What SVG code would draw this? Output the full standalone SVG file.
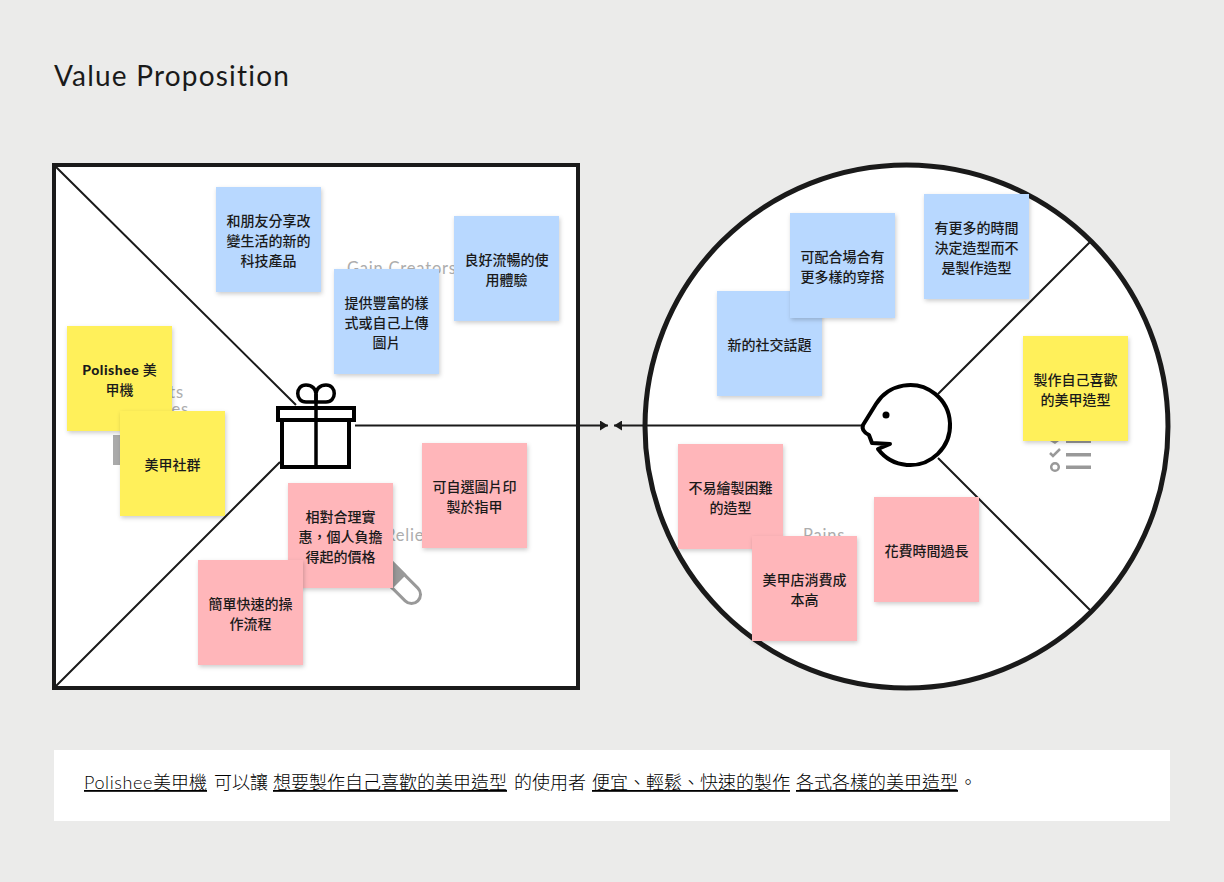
<svg xmlns="http://www.w3.org/2000/svg" width="1224" height="882" viewBox="0 0 1224 882">
<style>
text{font-family:"Lato","Noto Sans CJK TC","Noto Sans",sans-serif;fill:#1a1a1a}
.n text{font-size:14px;font-weight:500;text-anchor:middle}
.y rect{fill:#fff05a;filter:url(#s)}
.b rect{fill:#b8d8ff;filter:url(#s)}
.p rect{fill:#ffb6ba;filter:url(#s)}
.g{font-size:16.500px;font-weight:400;fill:#adadad;letter-spacing:.8px}
.u{font-size:18px;font-weight:300;text-decoration:underline;fill:#000}
.t{font-size:18px;font-weight:300;fill:#000}
.l{stroke:#1a1a1a;stroke-width:2;fill:none}
.i{stroke:#000;stroke-width:4;fill:#fff}
</style>
<defs>
<filter id="s" x="-10%" y="-10%" width="125%" height="125%"><feDropShadow dx="1" dy="2" stdDeviation="2" flood-color="#000" flood-opacity=".2"/></filter>
<marker id="a" markerWidth="9" markerHeight="10" refX="8" refY="5" orient="auto" markerUnits="userSpaceOnUse"><path d="M0 0L8 5L0 10Z" fill="#1a1a1a"/></marker>
</defs>
<rect width="1224" height="882" fill="#ebebea"/>
<text x="54" y="86" style="font-size:28px;letter-spacing:1.2px">Value Proposition</text>

<g id="value-map">
<rect x="54" y="165" width="524" height="523" fill="#fff" stroke="#1a1a1a" stroke-width="4"/>
<path class="l" d="M55 166L296 405M280 462L55 687"/>
<text class="g" x="347" y="274">Gain Creators</text>
<text class="g" x="184" y="398" text-anchor="end">Products</text>
<text class="g" x="189" y="415" text-anchor="end">&amp; Services</text>
<text class="g" x="346" y="541">Pain Relievers</text>
<rect x="113" y="435" width="7" height="30" fill="#aaa"/>
<g transform="translate(399 582) rotate(-45)">
<path d="M-9 -30H9V17.700A9 9 0 0 1 -9 17.700Z" fill="#fff" stroke="#999" stroke-width="3"/>
<rect x="-10.500" y="-30" width="21" height="30" fill="#999"/>
</g>
</g>

<g id="customer-profile">
<circle cx="906.500" cy="426.500" r="261.500" fill="#fff" stroke="#1a1a1a" stroke-width="5"/>
<path class="l" d="M938 394L1090 242M938 458L1090 610"/>
<text class="g" x="803" y="541">Pains</text>
<g fill="#999">
<rect x="1066" y="440" width="25" height="3"/>
<rect x="1066" y="453" width="25" height="3.500"/>
<rect x="1066" y="465.500" width="25" height="3.500"/>
<path d="M1050 441L1055 444L1059 441Z"/>
<path d="M1050 453L1053 456L1060 449" fill="none" stroke="#999" stroke-width="2.500"/>
<circle cx="1055" cy="467" r="3.800" fill="#fff" stroke="#999" stroke-width="2.500"/>
</g>
</g>

<g id="connectors">
<path class="l" d="M355 425.500H608" marker-end="url(#a)"/>
<path class="l" d="M864 425.500H614" marker-end="url(#a)"/>
</g>

<g id="gift-icon">
<path d="M316 402H306C295 402 295 385 306 385C312 385 316 389 316 394ZM316 402H326C337 402 337 385 326 385C320 385 316 389 316 394Z" fill="#fff" stroke="#000" stroke-width="3.500"/>
<rect class="i" x="282" y="420" width="67" height="47"/>
<rect class="i" x="278" y="408" width="76" height="12"/>
<path d="M316 394V467" stroke="#000" stroke-width="3.500"/>
</g>

<g id="customer-icon">
<path d="M878 449A40 40 0 1 0 876 404L863 425Q861 431 869 435L872 443L890 444Z" fill="#fff" stroke="#000" stroke-width="4" stroke-linejoin="round"/>
<circle cx="886" cy="415" r="3.500" fill="#000"/>
</g>

<g id="note-friends" class="n b"><rect x="216" y="187" width="105" height="105"/><text x="268.500" y="226">和朋友分享改</text><text x="268.500" y="246">變生活的新的</text><text x="268.500" y="266">科技產品</text></g>
<g id="note-styles" class="n b"><rect x="334" y="269" width="105" height="105"/><text x="386.500" y="308">提供豐富的樣</text><text x="386.500" y="328">式或自己上傳</text><text x="386.500" y="348">圖片</text></g>
<g id="note-experience" class="n b"><rect x="454" y="216" width="105" height="105"/><text x="506.500" y="265">良好流暢的使</text><text x="506.500" y="285">用體驗</text></g>
<g id="note-polishee" class="n y"><rect x="67" y="326" width="105" height="105"/><text x="119.500" y="375"><tspan style="font-weight:900;letter-spacing:.5px">Polishee</tspan> 美</text><text x="119.500" y="395">甲機</text></g>
<g id="note-community" class="n y"><rect x="120" y="411" width="105" height="105"/><text x="172.500" y="470">美甲社群</text></g>
<g id="note-print" class="n p"><rect x="422" y="443" width="105" height="105"/><text x="474.500" y="492">可自選圖片印</text><text x="474.500" y="512">製於指甲</text></g>
<g id="note-price" class="n p"><rect x="288" y="483" width="105" height="105"/><text x="340.500" y="522">相對合理實</text><text x="340.500" y="542">惠，個人負擔</text><text x="340.500" y="562">得起的價格</text></g>
<g id="note-simple" class="n p"><rect x="198" y="560" width="105" height="105"/><text x="250.500" y="609">簡單快速的操</text><text x="250.500" y="629">作流程</text></g>

<g id="note-social" class="n b"><rect x="717" y="291" width="105" height="105"/><text x="769.500" y="350">新的社交話題</text></g>
<g id="note-outfit" class="n b"><rect x="790" y="213" width="105" height="105"/><text x="842.500" y="262">可配合場合有</text><text x="842.500" y="282">更多樣的穿搭</text></g>
<g id="note-time" class="n b"><rect x="924" y="194" width="105" height="105"/><text x="976.500" y="233">有更多的時間</text><text x="976.500" y="253">決定造型而不</text><text x="976.500" y="273">是製作造型</text></g>
<g id="note-job" class="n y"><rect x="1023" y="336" width="105" height="105"/><text x="1075.500" y="385">製作自己喜歡</text><text x="1075.500" y="405">的美甲造型</text></g>
<g id="note-hard" class="n p"><rect x="678" y="444" width="105" height="105"/><text x="730.500" y="493">不易繪製困難</text><text x="730.500" y="513">的造型</text></g>
<g id="note-cost" class="n p"><rect x="752" y="536" width="105" height="105"/><text x="804.500" y="585">美甲店消費成</text><text x="804.500" y="605">本高</text></g>
<g id="note-long" class="n p"><rect x="874" y="497" width="105" height="105"/><text x="926.500" y="556">花費時間過長</text></g>

<g id="statement">
<rect x="54" y="750" width="1116" height="71" fill="#fff"/>
<text class="u" x="84" y="789"><tspan style="letter-spacing:.6px">Polishee</tspan>美甲機</text>
<text class="t" x="214" y="789">可以讓</text>
<text class="u" x="273" y="789">想要製作自己喜歡的美甲造型</text>
<text class="t" x="514" y="789">的使用者</text>
<text class="u" x="592" y="789">便宜、輕鬆、快速的製作</text>
<text class="u" x="796" y="789">各式各樣的美甲造型</text>
<text class="t" x="959" y="789">。</text>
</g>
</svg>
